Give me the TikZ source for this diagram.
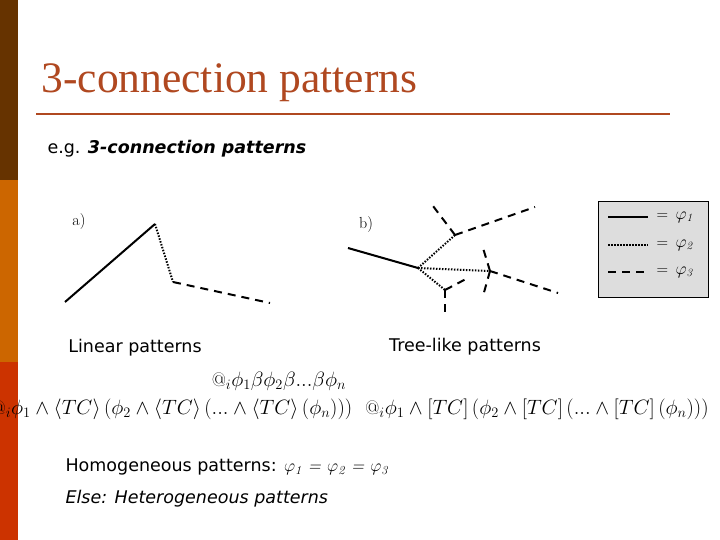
\documentclass[tikz,border=0pt]{standalone}
\usepackage{amsmath,amssymb}
\usepackage{fontspec}
\newfontfamily\versans{DejaVu Sans}
\newfontfamily\titlefont{Liberation Serif}
\definecolor{sbrown}{RGB}{102,51,0}
\definecolor{sorange}{RGB}{204,102,0}
\definecolor{sred}{RGB}{204,51,0}
\definecolor{ttl}{RGB}{176,72,32}
\definecolor{lgray}{RGB}{221,221,221}
\tikzset{
  solidl/.style={line width=2pt},
  dotl/.style={line width=2pt,dash pattern=on 1.5pt off 1.5pt},
  dashl/.style={line width=2pt,dash pattern=on 8pt off 6pt},
  txt/.style={font=\versans\fontsize{17.5}{20}\selectfont},
  frm/.style={font=\fontsize{19.5}{22}\selectfont},
  lbl/.style={font=\fontsize{16}{18}\selectfont},
}
\begin{document}
\begin{tikzpicture}[x=1pt,y=-1pt]
\useasboundingbox (0,0) rectangle (720,540);
\fill[white] (0,0) rectangle (720,540);
\fill[sbrown] (0,0) rectangle (18,180);
\fill[sorange] (0,180) rectangle (18,362);
\fill[sred] (0,362) rectangle (18,540);
\node[anchor=west,text=ttl,font=\titlefont\fontsize{43.5}{46}\selectfont] (title) at (38,83) {3-connection patterns};
\draw[ttl,line width=1.6pt] (36,114) -- (670,114);
\node[txt,anchor=west] (eg) at (44,149) {e.g. \textbf{\textit{3-connection patterns}}};
% a)
\node[lbl] (la) at (79,222) {a)};
\coordinate (a1) at (65,302); \coordinate (a2) at (155,224);
\coordinate (a3) at (173,282); \coordinate (a4) at (270,303);
\draw[solidl] (a1) -- (a2);
\draw[dotl] (a2) -- (a3);
\draw[dashl] (a3) -- (a4);
% b)
\node[lbl] (lb) at (366,225) {b)};
\coordinate (b0) at (348,248); \coordinate (c) at (418,268);
\coordinate (j1) at (455,235); \coordinate (j2) at (490,271); \coordinate (j3) at (445,290);
\draw[solidl] (b0) -- (c);
\draw[dotl] (c) -- (j1);
\draw[dotl] (c) -- (j2);
\draw[dotl] (c) -- (j3);
\coordinate (e1) at (433,206); \coordinate (e2) at (535,207);
\coordinate (e3) at (483,248); \coordinate (e4) at (483,296); \coordinate (e5) at (558,293);
\coordinate (e6) at (445,312); \coordinate (e7) at (466,279);
\draw[dashl] (j1) -- (e1); \draw[dashl] (j1) -- (e2);
\draw[dashl] (j2) -- (e3); \draw[dashl] (j2) -- (e4); \draw[dashl] (j2) -- (e5);
\draw[dashl] (j3) -- (e6); \draw[dashl] (j3) -- (e7);
% legend
\node[draw=black,fill=lgray,minimum width=110pt,minimum height=96pt,anchor=north west,line width=0.6pt] (leg) at (598,201) {};
\coordinate (l1a) at (608,217); \coordinate (l1b) at (648,217);
\coordinate (l2a) at (608,245); \coordinate (l2b) at (648,245);
\coordinate (l3a) at (608,272); \coordinate (l3b) at (648,272);
\draw[solidl] (l1a) -- (l1b);
\draw[dotl] (l2a) -- (l2b);
\draw[dashl] (l3a) -- (l3b);
\node[anchor=west,lbl] (t1) at (653,217) {=\, $\varphi_{\mathit{1}}$};
\node[anchor=west,lbl] (t2) at (653,245) {=\, $\varphi_{\mathit{2}}$};
\node[anchor=west,lbl] (t3) at (653,272) {=\, $\varphi_{\mathit{3}}$};
% labels
\node[txt] (lin) at (135,348) {Linear patterns};
\node[txt] (tree) at (465,347) {Tree-like patterns};
\node[frm] (f0) at (279,381) {$@_i\phi_1\beta\phi_2\beta...\beta\phi_n$};
\node[frm] (f1) at (172,409) {$@_i\phi_1\wedge\langle TC\rangle\,(\phi_2\wedge\langle TC\rangle\,(...\wedge\langle TC\rangle\,(\phi_n)))$};
\node[frm] (f2) at (537,409) {$@_i\phi_1\wedge[TC]\,(\phi_2\wedge[TC]\,(...\wedge[TC]\,(\phi_n)))$};
\node[txt,anchor=west] (hom) at (62,467) {Homogeneous patterns: {\rmfamily\itshape$\varphi_{\mathit{1}}$ = $\varphi_{\mathit{2}}$ = $\varphi_{\mathit{3}}$}};
\node[txt,anchor=west] (els) at (62,499) {\textit{Else: Heterogeneous patterns}};
\end{tikzpicture}
\end{document}
